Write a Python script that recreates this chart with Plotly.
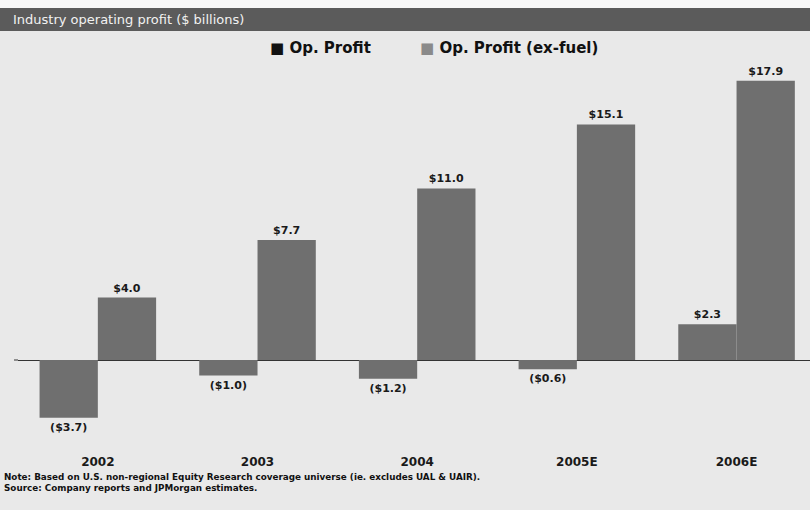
import plotly.graph_objects as go

categories = ["2002", "2003", "2004", "2005E", "2006E"]
op_profit = [-3.7, -1.0, -1.2, -0.6, 2.3]
op_profit_ex_fuel = [4.0, 7.7, 11.0, 15.1, 17.9]
series_names = ["Op. Profit", "Op. Profit (ex-fuel)"]


def fmt(v):
    return f"(${abs(v):.1f})" if v < 0 else f"${v:.1f}"


BG = "#e9e9e9"
BAR = "#6f6f6f"
FONT = "DejaVu Sans"

fig = go.Figure()
for name, vals in zip(series_names, [op_profit, op_profit_ex_fuel]):
    fig.add_trace(go.Bar(
        x=categories, y=vals, name=name, showlegend=False,
        marker=dict(color=BAR, line=dict(width=0)),
        text=[fmt(v) for v in vals], textposition="outside",
        textfont=dict(family=FONT, size=11, color="#1a1a1a", weight="bold"),
        cliponaxis=False, hoverinfo="skip",
    ))

PW, PH, L, T = 792, 383, 18, 65


def px(x):
    return (x - L) / PW


def py(y):
    return 1 + (T - y) / PH


fig.update_layout(
    width=810, height=510,
    paper_bgcolor=BG, plot_bgcolor=BG,
    margin=dict(l=18, r=0, t=65, b=62),
    barmode="group", bargap=0.27, bargroupgap=0.0,
    font=dict(family=FONT, color="#1a1a1a"),
    showlegend=False,
    xaxis=dict(range=[-0.5, 4.46], showgrid=False, showline=False, ticks="",
               ticklabelstandoff=5,
               tickfont=dict(family=FONT, size=12, weight="bold", color="#1a1a1a")),
    yaxis=dict(range=[-5.64, 18.91], showgrid=False, showticklabels=False,
               zeroline=True, zerolinecolor="#333333", zerolinewidth=1, showline=False),
    shapes=[
        dict(type="rect", xref="paper", yref="paper",
             x0=px(0), x1=px(810), y0=py(0), y1=py(8),
             fillcolor="#f7f7f7", line=dict(width=0), layer="below"),
        dict(type="rect", xref="paper", yref="paper",
             x0=px(0), x1=px(810), y0=py(31), y1=py(8),
             fillcolor="#5b5b5b", line=dict(width=0), layer="below"),
        dict(type="line", xref="paper", yref="y",
             x0=px(14), x1=px(18), y0=0, y1=0,
             line=dict(color="#333333", width=1)),
    ],
    annotations=[
        dict(text="Industry operating profit ($ billions)", xref="paper", yref="paper",
             x=px(11), y=py(19.5), xanchor="left", yanchor="middle", showarrow=False,
             font=dict(family=FONT, size=13, color="#f2f2f2")),
        dict(text=f"<span style='color:#111111'>■</span> {series_names[0]}",
             xref="paper", yref="paper", x=px(268), y=py(48), xanchor="left", yanchor="middle",
             showarrow=False, font=dict(family=FONT, size=15, weight="bold", color="#111111")),
        dict(text=f"<span style='color:#8a8a8a'>■</span> {series_names[1]}",
             xref="paper", yref="paper", x=px(418), y=py(48), xanchor="left", yanchor="middle",
             showarrow=False, font=dict(family=FONT, size=15, weight="bold", color="#111111")),
        dict(text="<b>Note: Based on U.S. non-regional Equity Research coverage universe (ie. excludes UAL & UAIR).</b><br><b>Source: Company reports and JPMorgan estimates.</b>",
             xref="paper", yref="paper", x=px(2), y=py(470),
             xanchor="left", yanchor="top", align="left", showarrow=False,
             font=dict(family=FONT, size=8.8, color="#111111")),
    ],
)

fig.write_html("out.html", config={"displayModeBar": False},
               post_script="document.body.style.margin='0';")
